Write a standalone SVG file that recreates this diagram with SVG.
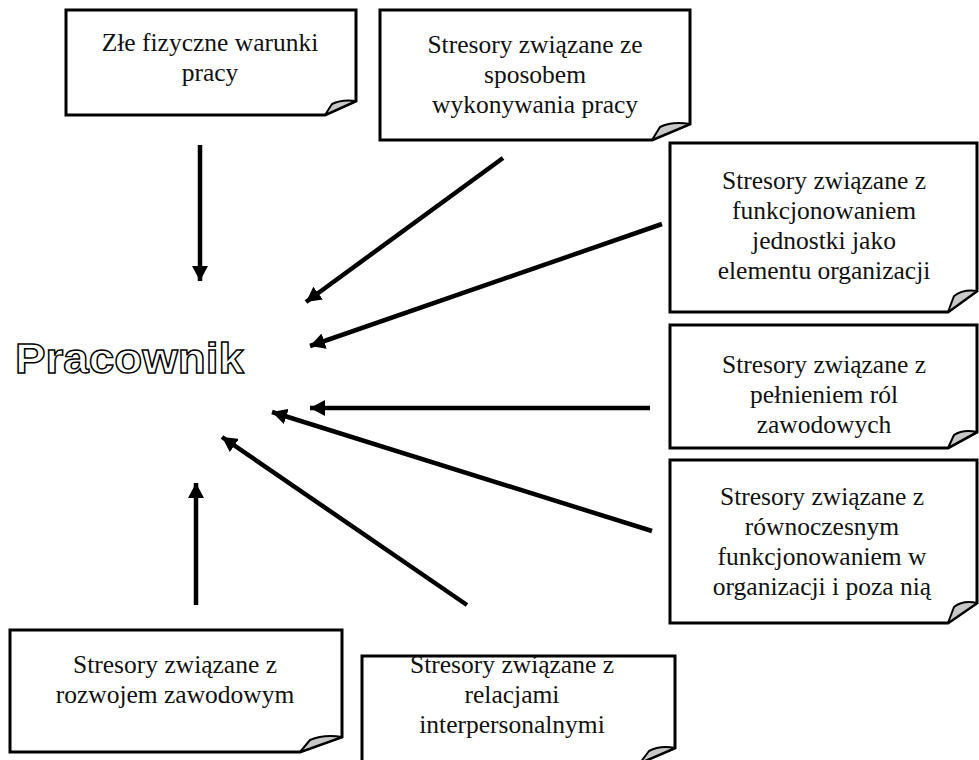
<svg xmlns="http://www.w3.org/2000/svg" width="979" height="760" viewBox="0 0 979 760">
<style>
.box{fill:#fff;stroke:#000;stroke-width:3;stroke-linejoin:miter}
.flap{fill:#c8c8c8;stroke:#000;stroke-width:2;stroke-linejoin:round}
.lbl{font-family:"Liberation Serif","Times New Roman",serif;font-size:25.5px;fill:#111;text-anchor:middle}
.arr{stroke:#000;stroke-width:4.5;fill:none}
.title{font-family:"Liberation Sans",Arial,sans-serif;font-weight:bold;font-size:42px;fill:#fff;stroke:#000;stroke-width:1.4}
</style>
<defs>
<marker id="ah" markerUnits="userSpaceOnUse" markerWidth="16" markerHeight="16" refX="15" refY="8" orient="auto">
<path d="M0,0 L15,8 L0,16 z" fill="#000"/>
</marker>
</defs>
<rect width="979" height="760" fill="#fff"/>

<g id="pracownik">
<text class="title" x="15" y="373" textLength="229" lengthAdjust="spacingAndGlyphs">Pracownik</text>
</g>

<g id="n1">
<path class="box" d="M66,10 H356 V101 L325,115 H66 Z"/>
<path class="flap" d="M325,115 L332,104 Q342,99 356,101 Z"/>
<text class="lbl" x="210"><tspan x="210" y="51">Złe fizyczne warunki</tspan><tspan x="210" y="81">pracy</tspan></text>
</g>

<g id="n2">
<path class="box" d="M380,10 H690 V124 L652,140 H380 Z"/>
<path class="flap" d="M652,140 L660,127 Q672,121 690,124 Z"/>
<text class="lbl" x="535"><tspan x="535" y="53">Stresory związane ze</tspan><tspan x="535" y="83">sposobem</tspan><tspan x="535" y="113">wykonywania pracy</tspan></text>
</g>

<g id="n3">
<path class="box" d="M670,143 H977 V291 L948,312 H670 Z"/>
<path class="flap" d="M948,312 L954,296 Q963,289 977,291 Z"/>
<text class="lbl" x="824"><tspan x="824" y="189">Stresory związane z</tspan><tspan x="824" y="219">funkcjonowaniem</tspan><tspan x="824" y="249">jednostki jako</tspan><tspan x="824" y="279">elementu organizacji</tspan></text>
</g>

<g id="n4">
<path class="box" d="M670,325 H977 V432 L948,448 H670 Z"/>
<path class="flap" d="M948,448 L954,435 Q963,429 977,432 Z"/>
<text class="lbl" x="824"><tspan x="824" y="373">Stresory związane z</tspan><tspan x="824" y="403">pełnieniem ról</tspan><tspan x="824" y="433">zawodowych</tspan></text>
</g>

<g id="n5">
<path class="box" d="M670,460 H977 V603 L948,623 H670 Z"/>
<path class="flap" d="M948,623 L954,607 Q963,600 977,603 Z"/>
<text class="lbl" x="822"><tspan x="822" y="505">Stresory związane z</tspan><tspan x="822" y="535">równoczesnym</tspan><tspan x="822" y="565">funkcjonowaniem w</tspan><tspan x="822" y="595">organizacji i poza nią</tspan></text>
</g>

<g id="n6">
<path class="box" d="M10,630 H342 V737 L300,752 H10 Z"/>
<path class="flap" d="M300,752 L310,740 Q324,734 342,737 Z"/>
<text class="lbl" x="175"><tspan x="175" y="673">Stresory związane z</tspan><tspan x="175" y="703">rozwojem zawodowym</tspan></text>
</g>

<g id="n7">
<path class="box" d="M362,656 H675 V748 L640,763 H362 Z"/>
<path class="flap" d="M640,763 L649,751 Q660,745 675,748 Z"/>
<text class="lbl" x="512"><tspan x="512" y="673">Stresory związane z</tspan><tspan x="512" y="703">relacjami</tspan><tspan x="512" y="733">interpersonalnymi</tspan></text>
</g>

<g id="connectors">
<line class="arr" x1="200" y1="145" x2="200" y2="281" marker-end="url(#ah)"/>
<line class="arr" x1="503" y1="158" x2="306" y2="302" marker-end="url(#ah)"/>
<line class="arr" x1="662" y1="224" x2="310" y2="346" marker-end="url(#ah)"/>
<line class="arr" x1="650" y1="408" x2="310" y2="408" marker-end="url(#ah)"/>
<line class="arr" x1="652" y1="531" x2="272" y2="412" marker-end="url(#ah)"/>
<line class="arr" x1="467" y1="605" x2="222" y2="437" marker-end="url(#ah)"/>
<line class="arr" x1="196" y1="605" x2="196" y2="483" marker-end="url(#ah)"/>
</g>
</svg>
